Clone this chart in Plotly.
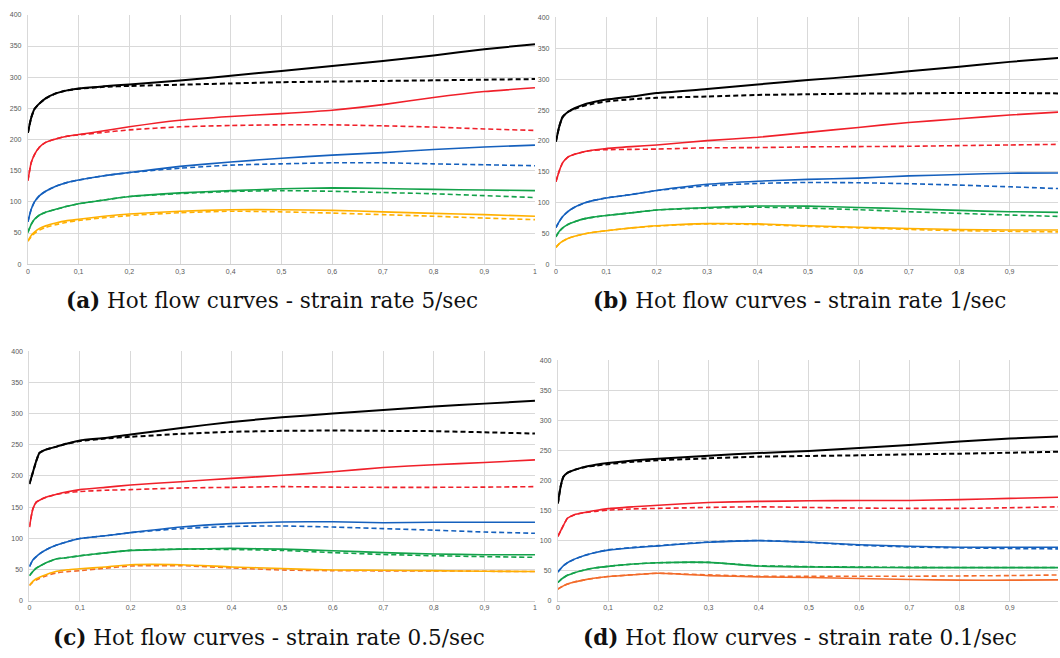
import plotly.graph_objects as go

# ---------------- data: true strain vs flow stress (MPa) ----------------
# Panel (a): strain rate 5/sec
strain_a = [0, 0.0065, 0.013, 0.023, 0.035, 0.055, 0.075, 0.1, 0.15, 0.2, 0.3, 0.4, 0.5, 0.6, 0.7, 0.8, 0.9, 1.0]
a_black_exp = [211, 235, 249, 258, 266, 274, 278.5, 282, 285.5, 288.5, 294.6, 302.5, 310, 318, 326, 335, 345, 353]
a_black_mod = [211, 235, 249, 258, 266, 274, 278.5, 281.5, 284.5, 286, 288, 290, 292, 293, 294, 295, 296, 297]
a_red_exp = [134, 163, 176, 188, 195.5, 201, 205, 208, 214, 220.5, 231, 237, 241.6, 247, 256, 267.5, 277, 283]
a_red_mod = [134, 163, 176, 188, 195.5, 201, 205, 207.5, 211.5, 215.5, 220.4, 222.5, 223.6, 223.6, 222, 220, 217, 214.6]
a_blue_exp = [68, 88, 100, 110, 117, 125, 130.5, 135, 142, 147, 157, 164, 170, 175, 179, 184, 188, 191]
a_blue_mod = [68, 88, 100, 110, 117, 125, 130.5, 135, 142, 147, 154, 159, 161, 162.7, 162.7, 161, 159.5, 158]
a_green_exp = [51, 64, 72, 79, 83.5, 88, 92.5, 97, 103, 108.5, 114.4, 118, 121, 122.4, 121.5, 120, 119, 118]
a_green_mod = [51, 64, 72, 79, 83.5, 88, 92.5, 97, 103, 108.5, 113.4, 116.6, 118, 117, 115, 113, 110, 107]
a_orange_exp = [37, 46, 51.5, 57.5, 61.5, 66, 69.5, 72, 77, 80.5, 85, 87.4, 87.4, 86.4, 84, 81.6, 79.5, 77]
a_orange_mod = [37, 44, 49.5, 55, 59, 63.5, 67, 70, 74.5, 78, 82.6, 85, 84, 82, 79.5, 77, 74, 71.5]

# Panel (b): strain rate 1/sec
strain_b = [0, 0.0068, 0.0135, 0.0237, 0.037, 0.0575, 0.075, 0.1, 0.15, 0.2, 0.3, 0.4, 0.5, 0.6, 0.7, 0.8, 0.9, 1.0]
b_black_exp = [199, 224, 239, 247, 253, 259.5, 263, 267, 272, 277.5, 284, 291.5, 298.5, 305, 313, 320, 328, 334.6]
b_black_mod = [199, 224, 239, 247, 252, 257.5, 260.5, 264, 267.5, 270, 272, 274.5, 275.6, 276.6, 277, 277.7, 277.7, 277]
b_red_exp = [134, 152, 165, 174, 178.5, 183, 185.5, 188, 191, 193.6, 200.6, 206, 214, 222, 230, 236, 242, 247]
b_red_mod = [134, 152, 165, 174, 178.5, 183, 185, 186, 186.5, 187, 189, 189.4, 190.5, 191, 191.5, 192.6, 193.6, 194.7]
b_blue_exp = [60, 70, 78, 86, 93, 100, 104, 108, 113.5, 120, 130, 135, 138, 140, 143.6, 145.8, 148, 148.4]
b_blue_mod = [60, 70, 78, 86, 93, 100, 104, 108, 113.5, 120, 127.7, 131.4, 133, 132.5, 131, 128.7, 126, 123]
b_green_exp = [45, 54, 59.5, 65, 69.5, 74.5, 77, 79.5, 84, 88.5, 92.6, 95, 94.7, 92.6, 90.4, 87.8, 85.7, 84.6]
b_green_mod = [45, 54, 59.5, 65, 69.5, 74.5, 77, 79.5, 84, 88.5, 91.5, 93, 91.5, 89, 85.7, 83, 80.3, 78]
b_orange_exp = [28, 34, 38, 42.5, 46, 50, 52.5, 55, 59.5, 63, 66.5, 66, 63, 60.6, 58.5, 57, 56, 56]
b_orange_mod = [28, 34, 38, 42.5, 46, 50, 52.5, 55, 59.5, 62.5, 66, 65, 62, 59.6, 57, 55, 54, 53]

# Panel (c): strain rate 0.5/sec
strain_c = [0, 0.0068, 0.0136, 0.02, 0.034, 0.054, 0.075, 0.1, 0.15, 0.2, 0.3, 0.4, 0.5, 0.6, 0.7, 0.8, 0.9, 1.0]
c_black_exp = [187, 205.6, 224, 237, 242.6, 247, 252, 257, 261, 266.5, 277, 286.6, 294, 300, 305.7, 311.5, 316, 320.5]
c_black_mod = [187, 205.6, 224, 237, 242.6, 247, 252, 256, 260, 262.8, 267.5, 270.7, 272.3, 272.8, 272.3, 271.8, 270, 268]
c_red_exp = [118, 147, 158, 161, 166, 170.5, 174.5, 178, 181.7, 185.4, 190.7, 196, 201, 206.6, 213.5, 218, 221.5, 225.7]
c_red_mod = [118, 147, 158, 161, 166, 170.5, 173, 175, 177, 178, 180.7, 181.7, 182.8, 182, 181.7, 181.7, 182, 182.8]
c_blue_exp = [54.6, 65, 70.5, 75, 82, 89, 94.5, 99.6, 104, 109, 118, 123.4, 126, 126.6, 125, 125.6, 125.6, 125.6]
c_blue_mod = [54.6, 65, 70.5, 75, 82, 89, 94.5, 99.6, 104, 109, 115.5, 119, 119.7, 118, 115.5, 113, 110, 108]
c_green_exp = [40, 46.6, 52, 55, 61, 67, 69, 72, 76.5, 80.5, 82.6, 83.7, 82.6, 80, 77, 74.7, 73.6, 73.6]
c_green_mod = [40, 46.6, 52, 55, 61, 67, 69, 72, 76.5, 80.5, 82.6, 82, 80.5, 77, 74, 72, 70.5, 69.4]
c_orange_exp = [24.4, 30.7, 35, 37.5, 42, 47, 49.5, 51, 54, 57.5, 57.5, 54, 51.4, 49, 48.7, 48, 47, 46.6]
c_orange_mod = [24.4, 29.5, 33, 35.5, 40, 44.5, 46.5, 48, 52, 55.5, 56, 52.4, 49, 48, 47.7, 47.7, 47, 46.6]

# Panel (d): strain rate 0.1/sec
strain_d = [0, 0.0055, 0.011, 0.019, 0.033, 0.053, 0.075, 0.1, 0.15, 0.2, 0.3, 0.4, 0.5, 0.6, 0.7, 0.8, 0.9, 1.0]
d_black_exp = [161.7, 190, 206, 212.5, 217.5, 222.5, 226, 229, 233, 236, 241, 245.5, 248.8, 253.7, 259, 264.7, 269.6, 273]
d_black_mod = [161.7, 190, 206, 212.5, 217.5, 222, 224.5, 227, 231, 233.5, 236.7, 239.5, 240.6, 241.7, 243.3, 244.4, 246, 247.7]
d_red_exp = [107, 116, 125, 137, 143, 146.5, 150, 153, 156, 158.5, 163.3, 165, 166, 166.6, 166.6, 168, 170, 172]
d_red_mod = [107, 116, 125, 137, 143, 146.5, 148.5, 150.5, 152.5, 153.4, 155, 156, 155, 154, 153.4, 153.4, 154.5, 156]
d_blue_exp = [47.7, 53, 58, 63, 69, 75, 80, 84, 88, 91, 97, 99.7, 97, 93, 90.4, 88.8, 88.8, 88.8]
d_blue_mod = [47.7, 53, 58, 63, 69, 75, 80, 84.5, 88.5, 91.5, 97.5, 100, 97, 92, 89.3, 87.7, 86.6, 86]
d_green_exp = [30, 34.5, 38, 42, 46.5, 51, 54.5, 57, 60.8, 63, 63.5, 57.5, 56, 55.3, 54.8, 54.8, 54.8, 54.8]
d_green_mod = [30, 34.5, 38, 42, 46.5, 51, 54.5, 57, 60.8, 63, 63.5, 58, 56.5, 55.8, 55.3, 55, 55, 55]
d_orange_exp = [19, 22, 24.5, 27.5, 31, 34.5, 37.5, 40, 43, 45.5, 41.6, 39.5, 38.4, 36.7, 35, 34, 34, 34.5]
d_orange_mod = [19, 22, 24.5, 27.5, 31, 34.5, 37.5, 40, 43, 45.5, 42.7, 40.5, 40.5, 40.5, 40.5, 41, 41.6, 42.7]

x_ticks = [0, 0.1, 0.2, 0.3, 0.4, 0.5, 0.6, 0.7, 0.8, 0.9, 1.0]
x_tick_text = ["0", "0,1", "0,2", "0,3", "0,4", "0,5", "0,6", "0,7", "0,8", "0,9", "1"]
y_ticks = [0, 50, 100, 150, 200, 250, 300, 350, 400]

captions = [
    "<b>(a)</b> Hot flow curves - strain rate 5/sec",
    "<b>(b)</b> Hot flow curves - strain rate 1/sec",
    "<b>(c)</b> Hot flow curves - strain rate 0.5/sec",
    "<b>(d)</b> Hot flow curves - strain rate 0.1/sec",
]

# ---------------- styling ----------------
W, H = 1060, 658
BLACK, RED, BLUE, GREEN, ORANGE, ORANGE_RED = (
    "#000000", "#f0202a", "#1560bd", "#13a24a", "#ffb000", "#f26b2a")

panels = [
    # strain grid, curves [(experimental, model, colour, model colour)], plot box in px, x max, caption centre
    dict(x=strain_a, curves=[(a_black_exp, a_black_mod, BLACK, BLACK),
                             (a_red_exp, a_red_mod, RED, RED),
                             (a_blue_exp, a_blue_mod, BLUE, BLUE),
                             (a_green_exp, a_green_mod, GREEN, GREEN),
                             (a_orange_exp, a_orange_mod, ORANGE, ORANGE)],
         box=(26, 535, 11, 263), xmax=1.0, cap=(271, 300)),
    dict(x=strain_b, curves=[(b_black_exp, b_black_mod, BLACK, BLACK),
                             (b_red_exp, b_red_mod, RED, RED),
                             (b_blue_exp, b_blue_mod, BLUE, BLUE),
                             (b_green_exp, b_green_mod, GREEN, GREEN),
                             (b_orange_exp, b_orange_mod, ORANGE, ORANGE)],
         box=(556, 1060, 13.5, 263.5), xmax=(1060 - 556) / 506, cap=(801, 300)),
    dict(x=strain_c, curves=[(c_black_exp, c_black_mod, BLACK, BLACK),
                             (c_red_exp, c_red_mod, RED, RED),
                             (c_blue_exp, c_blue_mod, BLUE, BLUE),
                             (c_green_exp, c_green_mod, GREEN, GREEN),
                             (c_orange_exp, c_orange_mod, ORANGE, ORANGE_RED)],
         box=(27.5, 535, 351, 603), xmax=1.0, cap=(268, 640)),
    dict(x=strain_d, curves=[(d_black_exp, d_black_mod, BLACK, BLACK),
                             (d_red_exp, d_red_mod, RED, RED),
                             (d_blue_exp, d_blue_mod, BLUE, BLUE),
                             (d_green_exp, d_green_mod, GREEN, GREEN),
                             (d_orange_exp, d_orange_mod, ORANGE_RED, ORANGE_RED)],
         box=(558, 1060, 360, 603), xmax=(1060 - 558) / 504, cap=(801, 640)),
]

fig = go.Figure()
layout = dict(
    width=W, height=H, margin=dict(l=0, r=0, t=0, b=0),
    paper_bgcolor="white", plot_bgcolor="white", showlegend=False,
    annotations=[],
)

tick_font = dict(family="Liberation Sans, Arial, sans-serif", size=7, color="#595959")

for i, p in enumerate(panels):
    n = "" if i == 0 else str(i + 1)
    left, right, top, bottom = p["box"]
    for exp, mod, col, mcol in p["curves"]:
        w = 2.0 if col == BLACK else 1.6
        fig.add_trace(go.Scatter(
            x=p["x"], y=mod, mode="lines", xaxis="x" + n, yaxis="y" + n,
            line=dict(color=mcol, width=w, dash="5px,3px", shape="spline", smoothing=0.5),
            hoverinfo="skip"))
        fig.add_trace(go.Scatter(
            x=p["x"], y=exp, mode="lines", xaxis="x" + n, yaxis="y" + n,
            line=dict(color=col, width=w, shape="spline", smoothing=0.5),
            hoverinfo="skip"))
    layout["xaxis" + n] = dict(
        domain=[left / W, right / W], range=[0, p["xmax"]], anchor="y" + n,
        tickvals=x_ticks, ticktext=x_tick_text, tickfont=tick_font,
        showgrid=True, gridcolor="#d9d9d9", gridwidth=1, zeroline=False,
        showline=True, linecolor="#cfcfcf", linewidth=1, ticks="", fixedrange=True)
    layout["yaxis" + n] = dict(
        domain=[1 - bottom / H, 1 - top / H], range=[0, 400], anchor="x" + n,
        tickvals=y_ticks, tickfont=tick_font, ticklabelstandoff=4,
        showgrid=True, gridcolor="#d9d9d9", gridwidth=1, zeroline=False,
        showline=True, linecolor="#d9d9d9", linewidth=1, ticks="", fixedrange=True)
    cx, cy = p["cap"]
    layout["annotations"].append(dict(
        text=captions[i], x=cx / W, y=1 - cy / H, xref="paper", yref="paper",
        xanchor="center", yanchor="middle", showarrow=False,
        font=dict(family="DejaVu Serif, serif", size=21.5, color="#111111")))

fig.update_layout(**layout)
fig.write_html("out.html")
